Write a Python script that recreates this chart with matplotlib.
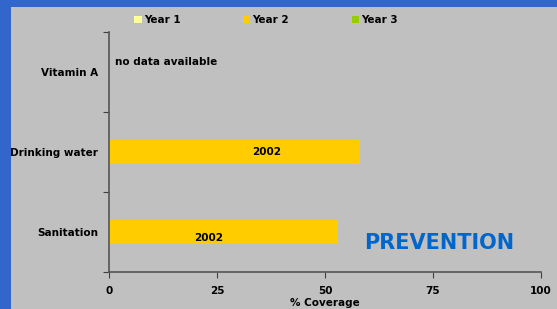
import numpy as np
import matplotlib
matplotlib.use("Agg")
import matplotlib.pyplot as plt
from matplotlib.patches import Rectangle

categories = ['Sanitation', 'Drinking water', 'Vitamin A']
series_names = ['Year 1', 'Year 2', 'Year 3']
year1 = [0, 0, 0]
year2 = [53, 58, 0]
year3 = [0, 0, 0]
bar_labels = ['2002', '2002', '']
x_ticks = [0, 25, 50, 75, 100]

colors = ['#FFFF99', '#FFCC00', '#99CC00']
bg = '#C0C0C0'
blue = '#3366CC'

plt.rcParams['font.family'] = 'DejaVu Sans'
plt.rcParams['font.weight'] = 'bold'

fig = plt.figure(figsize=(5.57, 3.09), dpi=100)
fig.patch.set_facecolor(blue)
fig.patches.append(Rectangle((11 / 557, 0), 1, 1 - 7 / 309, transform=fig.transFigure,
                             facecolor=bg, edgecolor='none', zorder=-5))

ax = fig.add_axes([109 / 557, 1 - 272 / 309, 432 / 557, 240 / 309])
ax.set_facecolor(bg)

y = np.arange(len(categories))
h = 0.3
for i, (vals, name) in enumerate(zip([year1, year2, year3], series_names)):
    ax.barh(y + (i - 1) * h, vals, height=h, color=colors[i], label=name)

# labels inside the bars (placed as on the original slide)
label_x = [23, 36.5]
label_dy = [-0.07, 0.0]
for yi, lx, dy, lab in zip(y, label_x, label_dy, bar_labels):
    if lab:
        ax.text(lx, yi + dy, lab, ha='center', va='center', fontsize=7.5,
                fontweight='bold', color='black')

ax.text(1.5, 2.12, 'no data available', ha='left', va='center', fontsize=7.5,
        fontweight='bold')

ax.set_xlim(0, 100)
ax.set_ylim(-0.5, 2.5)
ax.set_xticks(x_ticks)
ax.set_xticklabels([str(t) for t in x_ticks], fontsize=7.5, fontweight='bold')
ax.set_yticks([-0.5, 0.5, 1.5, 2.5])
ax.set_yticklabels([])
ax.set_yticks(y, minor=True)
ax.set_yticklabels(categories, minor=True, fontsize=7.5, fontweight='bold')
ax.tick_params(axis='y', which='minor', length=0, pad=8)
ax.tick_params(axis='y', which='major', length=4, color='#404040')
ax.tick_params(axis='x', length=4, color='#404040', pad=6)
ax.set_xlabel('% Coverage', fontsize=7.5, fontweight='bold', labelpad=1.5)

for s in ['top', 'right']:
    ax.spines[s].set_visible(False)
for s in ['left', 'bottom']:
    ax.spines[s].set_color('#555555')
    ax.spines[s].set_linewidth(1.2)

ax.text(0.765, 0.121, 'PREVENTION', transform=ax.transAxes, ha='center', va='center',
        fontsize=15, fontweight='bold', color='#0066CC')

fig.legend(loc='center', bbox_to_anchor=(266 / 557, 1 - 20 / 309), ncol=3,
           frameon=False, fontsize=7.5, handlelength=0.7, handleheight=0.7,
           handletextpad=0.2, columnspacing=6.0)

fig.savefig('out.png', dpi=100, facecolor=fig.get_facecolor())
